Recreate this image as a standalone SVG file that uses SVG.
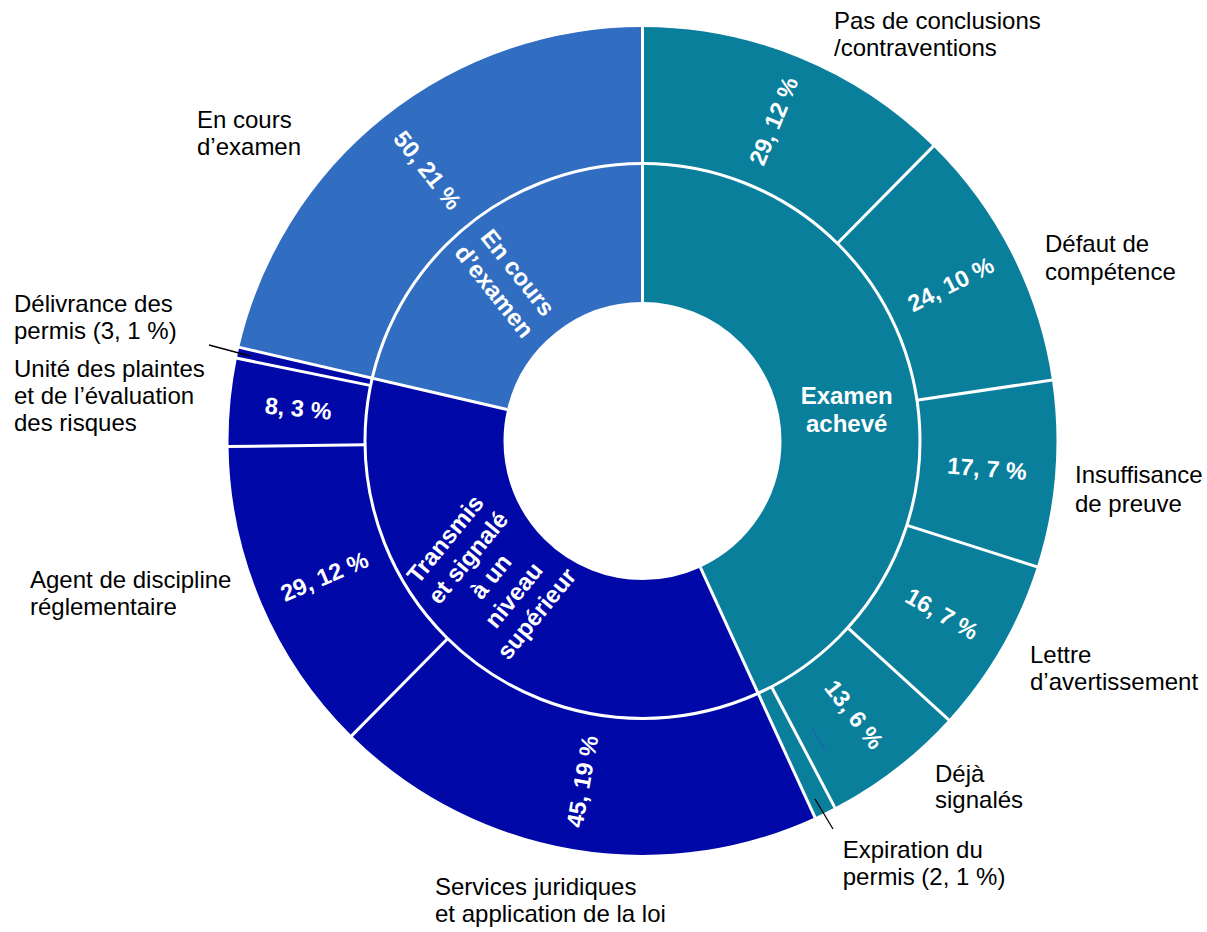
<svg xmlns="http://www.w3.org/2000/svg" width="1207" height="932" viewBox="0 0 1207 932">
<style>
.seg{fill:none}
.o{stroke-width:136.5}
.i{stroke-width:138.5}
.teal{stroke:#0A7F9C}
.blue{stroke:#316EC2}
.dark{stroke:#0008A8}
.pct{font-family:"Liberation Sans",Arial,sans-serif;font-size:23.5px;font-weight:bold;fill:#fff;text-anchor:middle;dominant-baseline:central}
.in{font-family:"Liberation Sans",Arial,sans-serif;font-size:24px;font-weight:bold;fill:#fff;text-anchor:middle}
.lbl{font-family:"Liberation Sans",Arial,sans-serif;font-size:24px;fill:#000}
.sep line{stroke:#fff;stroke-width:3}
.lead{stroke:#000;stroke-width:1.3}
</style>
<rect width="1207" height="932" fill="#fff"/>
<g transform="translate(642.5,441)">
<g id="examen-acheve"><circle class="seg i teal" r="208.25" transform="rotate(-90)" pathLength="234" stroke-dasharray="101 234" stroke-dashoffset="0"/></g>
<g id="transmis"><circle class="seg i dark" r="208.25" transform="rotate(-90)" pathLength="234" stroke-dasharray="83 234" stroke-dashoffset="-101"/></g>
<g id="en-cours-inner"><circle class="seg i blue" r="208.25" transform="rotate(-90)" pathLength="234" stroke-dasharray="50 234" stroke-dashoffset="-184"/></g>
<g id="pas-de-conclusions"><circle class="seg o teal" r="345.75" transform="rotate(-90)" pathLength="234" stroke-dasharray="29 234" stroke-dashoffset="0"/><text class="pct" transform="rotate(22.31) translate(0,-345.75) rotate(-90)">29, 12 %</text></g>
<g id="defaut"><circle class="seg o teal" r="345.75" transform="rotate(-90)" pathLength="234" stroke-dasharray="24 234" stroke-dashoffset="-29"/><text class="pct" transform="rotate(63.08) translate(0,-345.75) rotate(-90)">24, 10 %</text></g>
<g id="insuffisance"><circle class="seg o teal" r="345.75" transform="rotate(-90)" pathLength="234" stroke-dasharray="17 234" stroke-dashoffset="-53"/><text class="pct" transform="rotate(94.62) translate(0,-345.75) rotate(-90)">17, 7 %</text></g>
<g id="lettre"><circle class="seg o teal" r="345.75" transform="rotate(-90)" pathLength="234" stroke-dasharray="16 234" stroke-dashoffset="-70"/><text class="pct" transform="rotate(120) translate(0,-345.75) rotate(-90)">16, 7 %</text></g>
<g id="deja"><circle class="seg o teal" r="345.75" transform="rotate(-90)" pathLength="234" stroke-dasharray="13 234" stroke-dashoffset="-86"/><text class="pct" transform="rotate(142.31) translate(0,-345.75) rotate(-90)">13, 6 %</text></g>
<g id="expiration"><circle class="seg o teal" r="345.75" transform="rotate(-90)" pathLength="234" stroke-dasharray="2 234" stroke-dashoffset="-99"/></g>
<g id="services"><circle class="seg o dark" r="345.75" transform="rotate(-90)" pathLength="234" stroke-dasharray="45 234" stroke-dashoffset="-101"/><text class="pct" transform="rotate(190) translate(0,-345.75) rotate(90)">45, 19 %</text></g>
<g id="agent"><circle class="seg o dark" r="345.75" transform="rotate(-90)" pathLength="234" stroke-dasharray="29 234" stroke-dashoffset="-146"/><text class="pct" transform="rotate(246.92) translate(0,-345.75) rotate(90)">29, 12 %</text></g>
<g id="unite"><circle class="seg o dark" r="345.75" transform="rotate(-90)" pathLength="234" stroke-dasharray="8 234" stroke-dashoffset="-175"/><text class="pct" transform="rotate(275.38) translate(0,-345.75) rotate(90)">8, 3 %</text></g>
<g id="delivrance"><circle class="seg o dark" r="345.75" transform="rotate(-90)" pathLength="234" stroke-dasharray="1 234" stroke-dashoffset="-183"/></g>
<g id="en-cours-outer"><circle class="seg o blue" r="345.75" transform="rotate(-90)" pathLength="234" stroke-dasharray="50 234" stroke-dashoffset="-184"/><text class="pct" transform="rotate(321.54) translate(0,-345.75) rotate(90)">50, 21 %</text></g>
<g class="sep">
<circle r="277.5" fill="none" stroke="#fff" stroke-width="3"/>
<line x1="0" y1="-139" x2="0" y2="-416"/>
<line x1="0" y1="-277" x2="0" y2="-416" transform="rotate(44.615)"/>
<line x1="0" y1="-277" x2="0" y2="-416" transform="rotate(81.538)"/>
<line x1="0" y1="-277" x2="0" y2="-416" transform="rotate(107.692)"/>
<line x1="0" y1="-277" x2="0" y2="-416" transform="rotate(132.308)"/>
<line x1="0" y1="-277" x2="0" y2="-416" transform="rotate(152.308)"/>
<line x1="0" y1="-139" x2="0" y2="-416" transform="rotate(155.385)"/>
<line x1="0" y1="-277" x2="0" y2="-416" transform="rotate(224.615)"/>
<line x1="0" y1="-277" x2="0" y2="-416" transform="rotate(269.231)"/>
<line x1="0" y1="-277" x2="0" y2="-416" transform="rotate(281.538)"/>
<line x1="0" y1="-139" x2="0" y2="-416" transform="rotate(283.077)"/>
</g>
</g>
<g id="inner-labels">
<text class="in"><tspan x="846.7" y="404">Examen</tspan><tspan x="846.7" y="431.6">achevé</tspan></text>
<text class="in" transform="translate(506,282) rotate(51.54)"><tspan x="0" y="-7">En cours</tspan><tspan x="0" y="23">d’examen</tspan></text>
<text class="in" transform="translate(491,576.5) rotate(-50.77)"><tspan x="0" y="-51">Transmis</tspan><tspan x="0" y="-21.5">et signalé</tspan><tspan x="0" y="8">à un</tspan><tspan x="0" y="37.5">niveau</tspan><tspan x="0" y="67">supérieur</tspan></text>
</g>
<g id="connectors">
<line class="lead" x1="209" y1="345" x2="250" y2="356"/>
<line class="lead" x1="815" y1="799" x2="833" y2="829"/>
<line x1="812" y1="728" x2="825" y2="750" stroke="#3343C0" stroke-width="1" opacity="0.7"/>
</g>
<g id="outer-labels">
<text class="lbl"><tspan x="834" y="29.3">Pas de conclusions</tspan><tspan x="834" y="55.5">/contraventions</tspan></text>
<text class="lbl"><tspan x="1045" y="251.7">Défaut de</tspan><tspan x="1045" y="280">compétence</tspan></text>
<text class="lbl"><tspan x="1075" y="483.3">Insuffisance</tspan><tspan x="1075" y="511.7">de preuve</tspan></text>
<text class="lbl"><tspan x="1030" y="663">Lettre</tspan><tspan x="1030" y="690">d’avertissement</tspan></text>
<text class="lbl"><tspan x="935" y="782">Déjà</tspan><tspan x="935" y="808">signalés</tspan></text>
<text class="lbl"><tspan x="842.7" y="858.3">Expiration du</tspan><tspan x="842.7" y="885">permis (2, 1 %)</tspan></text>
<text class="lbl"><tspan x="435" y="895">Services juridiques</tspan><tspan x="435" y="921.7">et application de la loi</tspan></text>
<text class="lbl"><tspan x="30" y="588">Agent de discipline</tspan><tspan x="30" y="615">réglementaire</tspan></text>
<text class="lbl"><tspan x="14" y="376.7">Unité des plaintes</tspan><tspan x="14" y="404">et de l’évaluation</tspan><tspan x="14" y="430.7">des risques</tspan></text>
<text class="lbl"><tspan x="14" y="311.7">Délivrance des</tspan><tspan x="14" y="338.5">permis (3, 1 %)</tspan></text>
<text class="lbl"><tspan x="197" y="128.3">En cours</tspan><tspan x="197" y="155">d’examen</tspan></text>
</g>
</svg>
